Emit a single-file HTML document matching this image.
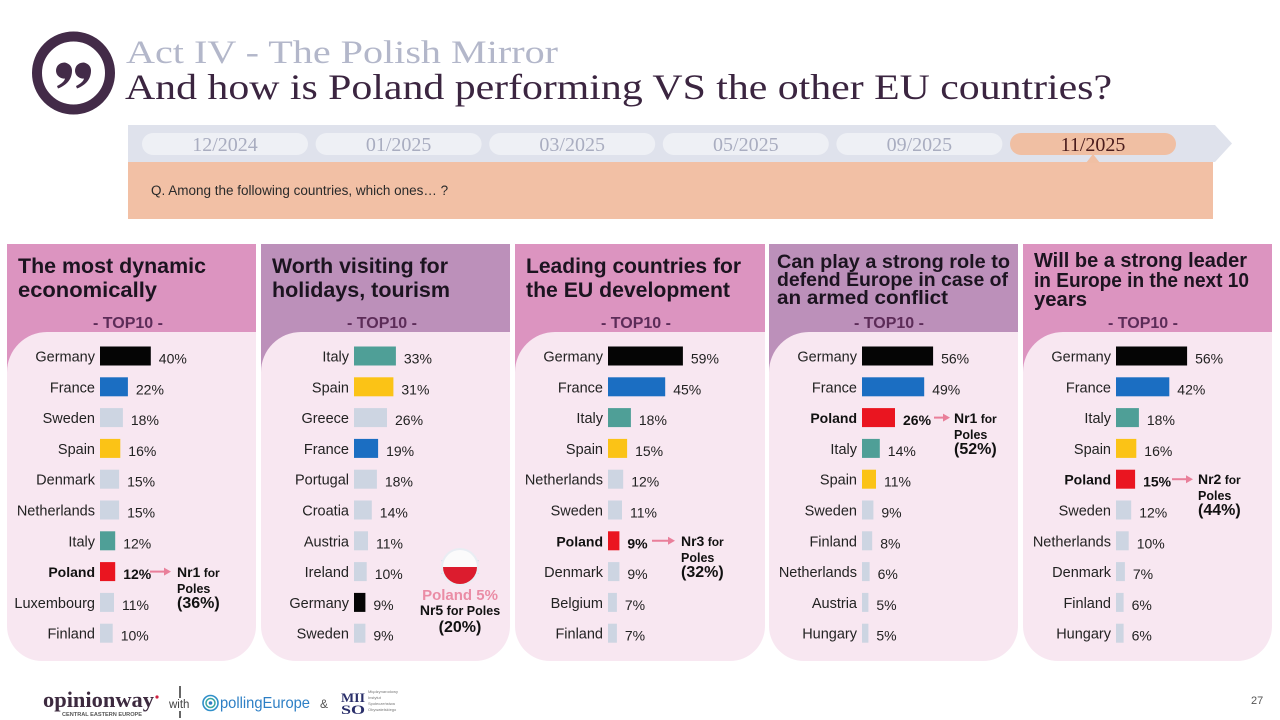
<!DOCTYPE html>
<html><head><meta charset="utf-8"><style>
html,body{margin:0;padding:0;background:#fff;}
svg{display:block;}
.s{font-family:"Liberation Sans",Arial,sans-serif;}
.r{font-family:"Liberation Serif","Times New Roman",serif;}
.lb{font-size:14.5px;fill:#222;text-anchor:end;}
.lbb{font-size:14px;fill:#111;text-anchor:end;font-weight:bold;}
.v{font-size:14px;fill:#222;}
.vb{font-size:14px;fill:#111;font-weight:bold;}
.tt{font-weight:bold;fill:#1c1420;}
.top{font-size:16px;font-weight:bold;fill:#5c2c58;text-anchor:middle;}
.an{font-weight:bold;fill:#111;}
.pl{font-size:20px;fill:#a9adc0;text-anchor:middle;}
</style></head><body>
<svg width="1280" height="720" viewBox="0 0 1280 720" xmlns="http://www.w3.org/2000/svg">
<rect width="1280" height="720" fill="#fff"/>

<!-- Quote icon -->
<circle cx="73.5" cy="73" r="36.5" fill="none" stroke="#432b48" stroke-width="10"/>
<path d="M72 70.5 C72 79 67 85 58 88.5 L57 86 C62 83.5 64.5 81 65 78.5 A8 8 0 1 1 72 70.5 Z" fill="#432b48"/>
<path d="M91 70.5 C91 79 86 85 77 88.5 L76 86 C81 83.5 83.5 81 84 78.5 A8 8 0 1 1 91 70.5 Z" fill="#432b48"/>

<!-- Titles -->
<text class="r" x="126" y="63" font-size="33" fill="#b3b7ca" textLength="432" lengthAdjust="spacingAndGlyphs">Act IV - The Polish Mirror</text>
<text class="r" x="125" y="99" font-size="36" fill="#3b2540" textLength="987" lengthAdjust="spacingAndGlyphs">And how is Poland performing VS the other EU countries?</text>

<!-- Timeline -->
<polygon points="128,125 1215,125 1232,143.5 1215,162 128,162" fill="#dfe2ec"/>
<rect x="128" y="162" width="1085" height="57" fill="#f2c0a5"/>
<rect x="142" y="133" width="166" height="22" rx="11" fill="#eef0f5"/>
<rect x="315.6" y="133" width="166" height="22" rx="11" fill="#eef0f5"/>
<rect x="489.2" y="133" width="166" height="22" rx="11" fill="#eef0f5"/>
<rect x="662.8" y="133" width="166" height="22" rx="11" fill="#eef0f5"/>
<rect x="836.4" y="133" width="166" height="22" rx="11" fill="#eef0f5"/>
<rect x="1010" y="133" width="166" height="22" rx="11" fill="#f0bfa3"/>
<polygon points="1086,163 1093,154 1100,163" fill="#f0bfa3"/>
<text class="r pl" x="225" y="151">12/2024</text>
<text class="r pl" x="398.6" y="151">01/2025</text>
<text class="r pl" x="572.2" y="151">03/2025</text>
<text class="r pl" x="745.8" y="151">05/2025</text>
<text class="r pl" x="919.4" y="151">09/2025</text>
<text class="r pl" x="1093" y="151" fill="#4a1c1c" style="fill:#4a1c1c">11/2025</text>
<text class="s" x="151" y="195" font-size="13.5" fill="#2a2a2a">Q. Among the following countries, which ones… ?</text>

<!-- Panels backgrounds -->
<g>
<rect x="7" y="244" width="249" height="150" fill="#dc94c0"/>
<path d="M7 372 A40 40 0 0 1 47 332 L256 332 L256 626 A35 35 0 0 1 221 661 L42 661 A35 35 0 0 1 7 626 Z" fill="#f8e7f1"/>
<rect x="261" y="244" width="249" height="150" fill="#bc90ba"/>
<path d="M261 372 A40 40 0 0 1 301 332 L510 332 L510 626 A35 35 0 0 1 475 661 L296 661 A35 35 0 0 1 261 626 Z" fill="#f8e7f1"/>
<rect x="515" y="244" width="250" height="150" fill="#dc94c0"/>
<path d="M515 372 A40 40 0 0 1 555 332 L765 332 L765 626 A35 35 0 0 1 730 661 L550 661 A35 35 0 0 1 515 626 Z" fill="#f8e7f1"/>
<rect x="769" y="244" width="249" height="150" fill="#bc90ba"/>
<path d="M769 372 A40 40 0 0 1 809 332 L1018 332 L1018 626 A35 35 0 0 1 983 661 L804 661 A35 35 0 0 1 769 626 Z" fill="#f8e7f1"/>
<rect x="1023" y="244" width="249" height="150" fill="#dc94c0"/>
<path d="M1023 372 A40 40 0 0 1 1063 332 L1272 332 L1272 626 A35 35 0 0 1 1237 661 L1058 661 A35 35 0 0 1 1023 626 Z" fill="#f8e7f1"/>
</g>

<!-- Panel titles -->
<g class="s">
<text class="tt" x="18" y="273" font-size="21" textLength="188" lengthAdjust="spacingAndGlyphs">The most dynamic</text>
<text class="tt" x="18" y="297" font-size="21" textLength="139" lengthAdjust="spacingAndGlyphs">economically</text>
<text class="tt" x="272" y="273" font-size="21" textLength="176" lengthAdjust="spacingAndGlyphs">Worth visiting for</text>
<text class="tt" x="272" y="297" font-size="21" textLength="178" lengthAdjust="spacingAndGlyphs">holidays, tourism</text>
<text class="tt" x="526" y="273" font-size="21" textLength="215" lengthAdjust="spacingAndGlyphs">Leading countries for</text>
<text class="tt" x="526" y="297" font-size="21" textLength="204" lengthAdjust="spacingAndGlyphs">the EU development</text>
<text class="tt" x="777" y="268" font-size="19.5" textLength="233" lengthAdjust="spacingAndGlyphs">Can play a strong role to</text>
<text class="tt" x="777" y="286" font-size="19.5" textLength="231" lengthAdjust="spacingAndGlyphs">defend Europe in case of</text>
<text class="tt" x="777" y="304" font-size="19.5" textLength="171" lengthAdjust="spacingAndGlyphs">an armed conflict</text>
<text class="tt" x="1034" y="267" font-size="20" textLength="213" lengthAdjust="spacingAndGlyphs">Will be a strong leader</text>
<text class="tt" x="1034" y="287" font-size="20" textLength="215" lengthAdjust="spacingAndGlyphs">in Europe in the next 10</text>
<text class="tt" x="1034" y="306" font-size="20" textLength="53" lengthAdjust="spacingAndGlyphs">years</text>
<text class="top" x="128" y="328">- TOP10 -</text>
<text class="top" x="382" y="328">- TOP10 -</text>
<text class="top" x="636" y="328">- TOP10 -</text>
<text class="top" x="889" y="328">- TOP10 -</text>
<text class="top" x="1143" y="328">- TOP10 -</text>
</g>

<!-- Panel 1 -->
<g class="s">
<rect x="100" y="346.5" width="50.8" height="19" fill="#050505"/>
<rect x="100" y="377.3" width="27.9" height="19" fill="#1b6ec2"/>
<rect x="100" y="408.1" width="22.9" height="19" fill="#cdd5e2"/>
<rect x="100" y="438.9" width="20.3" height="19" fill="#fbc316"/>
<rect x="100" y="469.7" width="19.1" height="19" fill="#cdd5e2"/>
<rect x="100" y="500.5" width="19.1" height="19" fill="#cdd5e2"/>
<rect x="100" y="531.3" width="15.2" height="19" fill="#4f9f97"/>
<rect x="100" y="562.1" width="15.2" height="19" fill="#ea1520"/>
<rect x="100" y="592.9" width="14" height="19" fill="#cdd5e2"/>
<rect x="100" y="623.7" width="12.7" height="19" fill="#cdd5e2"/>
<text class="lb" x="95" y="361.5">Germany</text>
<text class="lb" x="95" y="392.3">France</text>
<text class="lb" x="95" y="423.1">Sweden</text>
<text class="lb" x="95" y="453.9">Spain</text>
<text class="lb" x="95" y="484.7">Denmark</text>
<text class="lb" x="95" y="515.5">Netherlands</text>
<text class="lb" x="95" y="546.3">Italy</text>
<text class="lbb" x="95" y="577.1">Poland</text>
<text class="lb" x="95" y="607.9">Luxembourg</text>
<text class="lb" x="95" y="638.7">Finland</text>
<text class="v" x="158.8" y="363.5">40%</text>
<text class="v" x="135.9" y="394.3">22%</text>
<text class="v" x="130.9" y="425.1">18%</text>
<text class="v" x="128.3" y="455.9">16%</text>
<text class="v" x="127.1" y="486.7">15%</text>
<text class="v" x="127.1" y="517.5">15%</text>
<text class="v" x="123.2" y="548.3">12%</text>
<text class="vb" x="123.2" y="579.1">12%</text>
<text class="v" x="122" y="609.9">11%</text>
<text class="v" x="120.7" y="640.7">10%</text>
<line x1="150" y1="571.6" x2="165" y2="571.6" stroke="#e97f9a" stroke-width="2"/>
<polygon points="164,567.6 171,571.6 164,575.6" fill="#e97f9a"/>
<text class="an" x="177" y="577"><tspan font-size="14">Nr1</tspan><tspan font-size="12"> for</tspan></text>
<text class="an" x="177" y="593" font-size="12.5">Poles</text>
<text class="an" x="177" y="608" font-size="16">(36%)</text>
</g>

<!-- Panel 2 -->
<g class="s">
<rect x="354" y="346.5" width="41.9" height="19" fill="#4f9f97"/>
<rect x="354" y="377.3" width="39.4" height="19" fill="#fbc316"/>
<rect x="354" y="408.1" width="33" height="19" fill="#cdd5e2"/>
<rect x="354" y="438.9" width="24.1" height="19" fill="#1b6ec2"/>
<rect x="354" y="469.7" width="22.9" height="19" fill="#cdd5e2"/>
<rect x="354" y="500.5" width="17.8" height="19" fill="#cdd5e2"/>
<rect x="354" y="531.3" width="14" height="19" fill="#cdd5e2"/>
<rect x="354" y="562.1" width="12.7" height="19" fill="#cdd5e2"/>
<rect x="354" y="592.9" width="11.4" height="19" fill="#050505"/>
<rect x="354" y="623.7" width="11.4" height="19" fill="#cdd5e2"/>
<text class="lb" x="349" y="361.5">Italy</text>
<text class="lb" x="349" y="392.3">Spain</text>
<text class="lb" x="349" y="423.1">Greece</text>
<text class="lb" x="349" y="453.9">France</text>
<text class="lb" x="349" y="484.7">Portugal</text>
<text class="lb" x="349" y="515.5">Croatia</text>
<text class="lb" x="349" y="546.3">Austria</text>
<text class="lb" x="349" y="577.1">Ireland</text>
<text class="lb" x="349" y="607.9">Germany</text>
<text class="lb" x="349" y="638.7">Sweden</text>
<text class="v" x="403.9" y="363.5">33%</text>
<text class="v" x="401.4" y="394.3">31%</text>
<text class="v" x="395" y="425.1">26%</text>
<text class="v" x="386.1" y="455.9">19%</text>
<text class="v" x="384.9" y="486.7">18%</text>
<text class="v" x="379.8" y="517.5">14%</text>
<text class="v" x="376" y="548.3">11%</text>
<text class="v" x="374.7" y="579.1">10%</text>
<text class="v" x="373.4" y="609.9">9%</text>
<text class="v" x="373.4" y="640.7">9%</text>
<!-- badge -->
<polygon points="441,560 451,560 451,574 441,574 445,567" fill="#cfdcec"/>
<polygon points="479,560 469,560 469,574 479,574 475,567" fill="#cfdcec"/>
<circle cx="460" cy="567" r="19" fill="#e9edf3"/>
<path d="M443 567 L477 567 A17 17 0 0 1 443 567 Z" fill="#dc1c2e"/>
<path d="M443 567 A17 17 0 0 1 477 567 Z" fill="#fbfbfb"/>
<text x="460" y="600" text-anchor="middle" font-size="15" font-weight="bold" fill="#ea8ca5">Poland 5%</text>
<text class="an" x="460" y="615" text-anchor="middle"><tspan font-size="14">Nr5</tspan><tspan font-size="12.5"> for Poles</tspan></text>
<text class="an" x="460" y="632" text-anchor="middle" font-size="16">(20%)</text>
</g>

<!-- Panel 3 -->
<g class="s">
<rect x="608" y="346.5" width="74.9" height="19" fill="#050505"/>
<rect x="608" y="377.3" width="57.2" height="19" fill="#1b6ec2"/>
<rect x="608" y="408.1" width="22.9" height="19" fill="#4f9f97"/>
<rect x="608" y="438.9" width="19.1" height="19" fill="#fbc316"/>
<rect x="608" y="469.7" width="15.2" height="19" fill="#cdd5e2"/>
<rect x="608" y="500.5" width="14" height="19" fill="#cdd5e2"/>
<rect x="608" y="531.3" width="11.4" height="19" fill="#ea1520"/>
<rect x="608" y="562.1" width="11.4" height="19" fill="#cdd5e2"/>
<rect x="608" y="592.9" width="8.9" height="19" fill="#cdd5e2"/>
<rect x="608" y="623.7" width="8.9" height="19" fill="#cdd5e2"/>
<text class="lb" x="603" y="361.5">Germany</text>
<text class="lb" x="603" y="392.3">France</text>
<text class="lb" x="603" y="423.1">Italy</text>
<text class="lb" x="603" y="453.9">Spain</text>
<text class="lb" x="603" y="484.7">Netherlands</text>
<text class="lb" x="603" y="515.5">Sweden</text>
<text class="lbb" x="603" y="546.3">Poland</text>
<text class="lb" x="603" y="577.1">Denmark</text>
<text class="lb" x="603" y="607.9">Belgium</text>
<text class="lb" x="603" y="638.7">Finland</text>
<text class="v" x="690.9" y="363.5">59%</text>
<text class="v" x="673.2" y="394.3">45%</text>
<text class="v" x="638.9" y="425.1">18%</text>
<text class="v" x="635.1" y="455.9">15%</text>
<text class="v" x="631.2" y="486.7">12%</text>
<text class="v" x="630" y="517.5">11%</text>
<text class="vb" x="627.4" y="548.3">9%</text>
<text class="v" x="627.4" y="579.1">9%</text>
<text class="v" x="624.9" y="609.9">7%</text>
<text class="v" x="624.9" y="640.7">7%</text>
<line x1="652" y1="540.8" x2="669" y2="540.8" stroke="#e97f9a" stroke-width="2"/>
<polygon points="668,536.8 675,540.8 668,544.8" fill="#e97f9a"/>
<text class="an" x="681" y="546"><tspan font-size="14">Nr3</tspan><tspan font-size="12"> for</tspan></text>
<text class="an" x="681" y="562" font-size="12.5">Poles</text>
<text class="an" x="681" y="577" font-size="16">(32%)</text>
</g>

<!-- Panel 4 -->
<g class="s">
<rect x="862" y="346.5" width="71.1" height="19" fill="#050505"/>
<rect x="862" y="377.3" width="62.2" height="19" fill="#1b6ec2"/>
<rect x="862" y="408.1" width="33" height="19" fill="#ea1520"/>
<rect x="862" y="438.9" width="17.8" height="19" fill="#4f9f97"/>
<rect x="862" y="469.7" width="14" height="19" fill="#fbc316"/>
<rect x="862" y="500.5" width="11.4" height="19" fill="#cdd5e2"/>
<rect x="862" y="531.3" width="10.2" height="19" fill="#cdd5e2"/>
<rect x="862" y="562.1" width="7.6" height="19" fill="#cdd5e2"/>
<rect x="862" y="592.9" width="6.4" height="19" fill="#cdd5e2"/>
<rect x="862" y="623.7" width="6.4" height="19" fill="#cdd5e2"/>
<text class="lb" x="857" y="361.5">Germany</text>
<text class="lb" x="857" y="392.3">France</text>
<text class="lbb" x="857" y="423.1">Poland</text>
<text class="lb" x="857" y="453.9">Italy</text>
<text class="lb" x="857" y="484.7">Spain</text>
<text class="lb" x="857" y="515.5">Sweden</text>
<text class="lb" x="857" y="546.3">Finland</text>
<text class="lb" x="857" y="577.1">Netherlands</text>
<text class="lb" x="857" y="607.9">Austria</text>
<text class="lb" x="857" y="638.7">Hungary</text>
<text class="v" x="941.1" y="363.5">56%</text>
<text class="v" x="932.2" y="394.3">49%</text>
<text class="vb" x="903" y="425.1">26%</text>
<text class="v" x="887.8" y="455.9">14%</text>
<text class="v" x="884" y="486.7">11%</text>
<text class="v" x="881.4" y="517.5">9%</text>
<text class="v" x="880.2" y="548.3">8%</text>
<text class="v" x="877.6" y="579.1">6%</text>
<text class="v" x="876.4" y="609.9">5%</text>
<text class="v" x="876.4" y="640.7">5%</text>
<line x1="934" y1="417.6" x2="944" y2="417.6" stroke="#e97f9a" stroke-width="2"/>
<polygon points="943,413.6 950,417.6 943,421.6" fill="#e97f9a"/>
<text class="an" x="954" y="423"><tspan font-size="14">Nr1</tspan><tspan font-size="12"> for</tspan></text>
<text class="an" x="954" y="439" font-size="12.5">Poles</text>
<text class="an" x="954" y="454" font-size="16">(52%)</text>
</g>

<!-- Panel 5 -->
<g class="s">
<rect x="1116" y="346.5" width="71.1" height="19" fill="#050505"/>
<rect x="1116" y="377.3" width="53.3" height="19" fill="#1b6ec2"/>
<rect x="1116" y="408.1" width="22.9" height="19" fill="#4f9f97"/>
<rect x="1116" y="438.9" width="20.3" height="19" fill="#fbc316"/>
<rect x="1116" y="469.7" width="19.1" height="19" fill="#ea1520"/>
<rect x="1116" y="500.5" width="15.2" height="19" fill="#cdd5e2"/>
<rect x="1116" y="531.3" width="12.7" height="19" fill="#cdd5e2"/>
<rect x="1116" y="562.1" width="8.9" height="19" fill="#cdd5e2"/>
<rect x="1116" y="592.9" width="7.6" height="19" fill="#cdd5e2"/>
<rect x="1116" y="623.7" width="7.6" height="19" fill="#cdd5e2"/>
<text class="lb" x="1111" y="361.5">Germany</text>
<text class="lb" x="1111" y="392.3">France</text>
<text class="lb" x="1111" y="423.1">Italy</text>
<text class="lb" x="1111" y="453.9">Spain</text>
<text class="lbb" x="1111" y="484.7">Poland</text>
<text class="lb" x="1111" y="515.5">Sweden</text>
<text class="lb" x="1111" y="546.3">Netherlands</text>
<text class="lb" x="1111" y="577.1">Denmark</text>
<text class="lb" x="1111" y="607.9">Finland</text>
<text class="lb" x="1111" y="638.7">Hungary</text>
<text class="v" x="1195.1" y="363.5">56%</text>
<text class="v" x="1177.3" y="394.3">42%</text>
<text class="v" x="1146.9" y="425.1">18%</text>
<text class="v" x="1144.3" y="455.9">16%</text>
<text class="vb" x="1143.1" y="486.7">15%</text>
<text class="v" x="1139.2" y="517.5">12%</text>
<text class="v" x="1136.7" y="548.3">10%</text>
<text class="v" x="1132.9" y="579.1">7%</text>
<text class="v" x="1131.6" y="609.9">6%</text>
<text class="v" x="1131.6" y="640.7">6%</text>
<line x1="1172" y1="479.2" x2="1187" y2="479.2" stroke="#e97f9a" stroke-width="2"/>
<polygon points="1186,475.2 1193,479.2 1186,483.2" fill="#e97f9a"/>
<text class="an" x="1198" y="484"><tspan font-size="14">Nr2</tspan><tspan font-size="12"> for</tspan></text>
<text class="an" x="1198" y="500" font-size="12.5">Poles</text>
<text class="an" x="1198" y="515" font-size="16">(44%)</text>
</g>

<!-- Footer -->
<text class="r" x="43" y="707" font-size="22" font-weight="bold" fill="#3d2a3f" textLength="111" lengthAdjust="spacingAndGlyphs">opinionway</text>
<circle cx="157" cy="697" r="1.6" fill="#d02040"/>
<text class="s" x="62" y="716" font-size="5.5" font-weight="bold" fill="#555" textLength="80" lengthAdjust="spacingAndGlyphs">CENTRAL EASTERN EUROPE</text>
<line x1="180" y1="686" x2="180" y2="698" stroke="#333" stroke-width="1.5"/>
<line x1="180" y1="711" x2="180" y2="718" stroke="#333" stroke-width="1.5"/>
<text class="s" x="169" y="708" font-size="11.5" fill="#444">with</text>
<circle cx="210.5" cy="703" r="7.5" fill="none" stroke="#2f8fc9" stroke-width="1.6"/>
<circle cx="210.5" cy="703" r="4.5" fill="none" stroke="#3aa7a0" stroke-width="1.5"/>
<circle cx="210.5" cy="703" r="1.8" fill="#2f7ec6"/>
<text class="s" x="220" y="708" font-size="16" fill="#2d7fc5" textLength="90" lengthAdjust="spacingAndGlyphs">pollingEurope</text>
<text class="s" x="320" y="708" font-size="12" fill="#555">&amp;</text>
<text class="r" x="341" y="702" font-size="13" font-weight="bold" fill="#2a2f6a" textLength="24" lengthAdjust="spacingAndGlyphs">MII</text>
<text class="r" x="341" y="714" font-size="13" font-weight="bold" fill="#2a2f6a" textLength="24" lengthAdjust="spacingAndGlyphs">SO</text>
<text class="s" x="368" y="693" font-size="4" fill="#777">Międzynarodowy</text>
<text class="s" x="368" y="699" font-size="4" fill="#777">Instytut</text>
<text class="s" x="368" y="705" font-size="4" fill="#777">Społeczeństwa</text>
<text class="s" x="368" y="711" font-size="4" fill="#777">Obywatelskiego</text>
<text class="s" x="1251" y="704" font-size="11" fill="#555">27</text>
</svg>
</body></html>
